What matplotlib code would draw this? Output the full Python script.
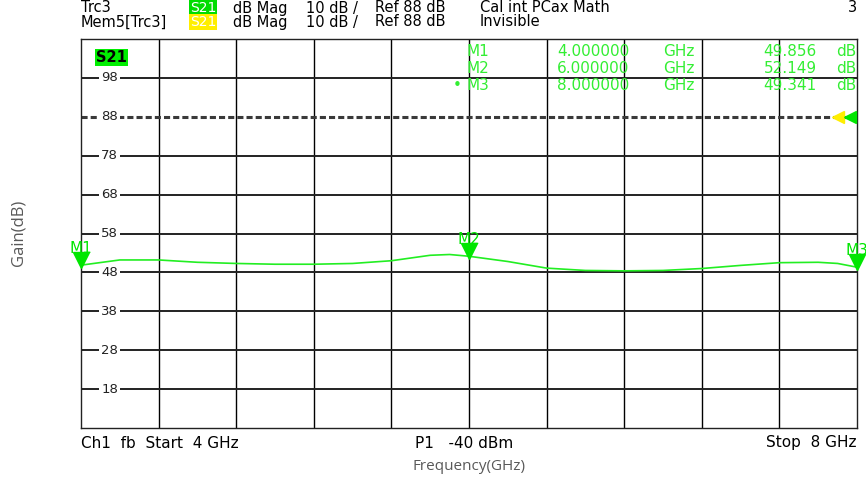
import numpy as np
import matplotlib
matplotlib.use("Agg")
import matplotlib.pyplot as plt
import matplotlib.transforms as mtransforms

plt.rcParams['font.family'] = ['DejaVu Sans']

freq_ghz = [4.0, 4.2, 4.4, 4.6, 4.8, 5.0, 5.2, 5.4, 5.6, 5.8, 5.9, 6.0,
            6.2, 6.4, 6.6, 6.8, 7.0, 7.2, 7.4, 7.6, 7.8, 7.9, 8.0]
gain_db = [49.86, 51.2, 51.2, 50.6, 50.3, 50.1, 50.1, 50.3, 51.0, 52.4, 52.6, 52.15,
           50.8, 49.1, 48.5, 48.4, 48.5, 49.0, 49.8, 50.5, 50.6, 50.3, 49.34]

marker_names = ['M1', 'M2', 'M3']
marker_freq = [4.0, 6.0, 8.0]
marker_gain = [49.856, 52.149, 49.341]

ref_level = 88
y_ticks = [98, 88, 78, 68, 58, 48, 38, 28, 18]
y_min, y_max = 8, 108
f_start, f_stop = 4.0, 8.0

GREEN = '#22ee22'
TXT_GREEN = '#33ee33'
W, H = 866, 484

fig = plt.figure(figsize=(8.66, 4.84), dpi=100)
ax = fig.add_axes([81/W, 1-428/H, 776/W, 389/H])
ax.set_xlim(f_start, f_stop)
ax.set_ylim(y_min, y_max)
ax.set_xticks([])
ax.set_yticks([])
for s in ax.spines.values():
    s.set_color('#222222')
    s.set_linewidth(1.0)

# grid
for f in np.linspace(f_start, f_stop, 11)[1:-1]:
    ax.axvline(f, color='black', lw=1.0, zorder=1)
ytr = ax.get_yaxis_transform()
for v in y_ticks:
    if v == ref_level:
        ax.axhline(v, color='#3a3a3a', lw=2.2, ls=(0, (2, 1)), zorder=2)
    else:
        ax.axhline(v, color='#222222', lw=1.4, zorder=1)
    ax.text(0.037, v, str(v), transform=ytr, ha='center', va='center', fontsize=9.5,
            color='#222222', zorder=3,
            bbox=dict(facecolor='white', edgecolor='none', pad=1.5))

# trace
ax.plot(freq_ghz, gain_db, color=GREEN, lw=1.2, zorder=4)

# markers (tip of triangle on the trace)
up = mtransforms.offset_copy(ax.transData, fig=fig, x=0, y=5, units='dots')
for name, f, g in zip(marker_names, marker_freq, marker_gain):
    ax.plot([f], [g], marker='v', ms=11, color='#00e600', mec='#00e600',
            transform=up, clip_on=False, zorder=5)
    ax.annotate(name, (f, g), xytext=(0, 6.5), textcoords='offset points',
                ha='center', va='bottom', fontsize=11, color='#00e600',
                annotation_clip=False, zorder=5)

# reference level arrows on the right
left_g = mtransforms.offset_copy(ax.transData, fig=fig, x=-7, y=0, units='dots')
left_y = mtransforms.offset_copy(ax.transData, fig=fig, x=-19, y=0, units='dots')
ax.plot([f_stop], [ref_level], marker='<', ms=8, color='#ffee00', transform=left_y,
        clip_on=False, zorder=5)
ax.plot([f_stop], [ref_level], marker='<', ms=9, color='#00e600', transform=left_g,
        clip_on=False, zorder=6)

# trace label box
ax.text(15/776, 0.952, 'S21', transform=ax.transAxes, fontsize=10.5, fontweight='bold',
        ha='left', va='center', color='black',
        bbox=dict(facecolor='#00ee00', edgecolor='none', pad=0.8), zorder=6)

# marker table
rows_y = [0.9666, 0.9254, 0.8817]
tfs = 11
for i, (name, f, g) in enumerate(zip(marker_names, marker_freq, marker_gain)):
    y = rows_y[i]
    kw = dict(transform=ax.transAxes, fontsize=tfs, color=TXT_GREEN, va='center', zorder=6)
    if i == 2:
        ax.text(372/776, y, '\u2022', ha='left', **kw)
    ax.text(385/776, y, name, ha='left', **kw)
    ax.text(476/776, y, f'{f:.6f}', ha='left', **kw)
    ax.text(582/776, y, 'GHz', ha='left', **kw)
    ax.text(736/776, y, f'{g:.3f}', ha='right', **kw)
    ax.text(755/776, y, 'dB', ha='left', **kw)

# header
hy1, hy2 = 1 - 8/H, 1 - 22/H
fs = 10.5
fig.text(81/W, hy1, 'Trc3', fontsize=fs, va='center')
fig.text(190/W, hy1, 'S21', fontsize=10, va='center', color='white',
         bbox=dict(facecolor='#00dd00', edgecolor='none', pad=0.5))
fig.text(233/W, hy1, 'dB Mag', fontsize=fs, va='center')
fig.text(306/W, hy1, '10 dB /', fontsize=fs, va='center')
fig.text(375/W, hy1, 'Ref 88 dB', fontsize=fs, va='center')
fig.text(480/W, hy1, 'Cal int PCax Math', fontsize=fs, va='center')
fig.text(857/W, hy1, '3', fontsize=fs, va='center', ha='right')
fig.text(81/W, hy2, 'Mem5[Trc3]', fontsize=fs, va='center')
fig.text(190/W, hy2, 'S21', fontsize=10, va='center', color='white',
         bbox=dict(facecolor='#ffee00', edgecolor='none', pad=0.5))
fig.text(233/W, hy2, 'dB Mag', fontsize=fs, va='center')
fig.text(306/W, hy2, '10 dB /', fontsize=fs, va='center')
fig.text(375/W, hy2, 'Ref 88 dB', fontsize=fs, va='center')
fig.text(480/W, hy2, 'Invisible', fontsize=fs, va='center')

# footer
fy = 1 - 443/H
ffs = 11
fig.text(81/W, fy, 'Ch1  fb  Start  4 GHz', fontsize=ffs, va='center')
fig.text(415/W, fy, 'P1   -40 dBm', fontsize=ffs, va='center')
fig.text(857/W, fy, 'Stop  8 GHz', fontsize=ffs, va='center', ha='right')

fig.text(469/W, 1 - 467/H, 'Frequency(GHz)', fontsize=11, color='#595959',
         ha='center', va='center', family=['Open Sans', 'DejaVu Sans'])
fig.text(18/W, 1 - 233/H, 'Gain(dB)', fontsize=12, color='#595959', rotation=90,
         ha='center', va='center', family=['Open Sans', 'DejaVu Sans'])

fig.savefig('out.png', dpi=100)
